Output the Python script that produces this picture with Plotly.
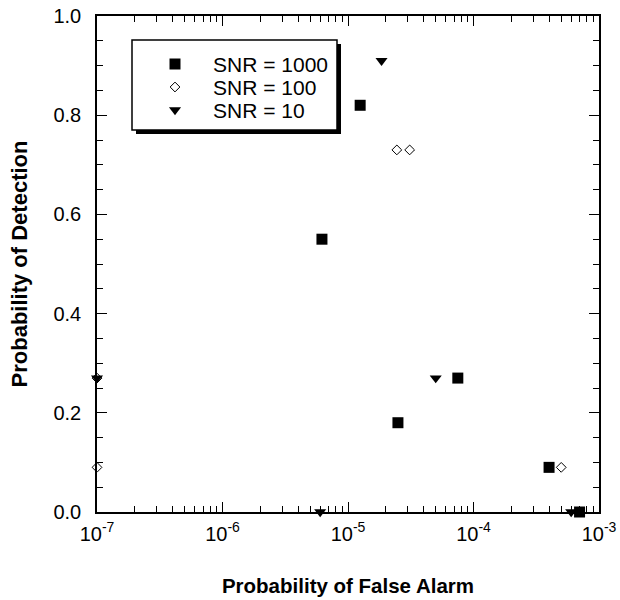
import plotly.graph_objects as go

# ---- data ----
snr1000_pfa = [6.2e-6, 1.25e-5, 2.5e-5, 7.5e-5, 4.0e-4, 7.0e-4]
snr1000_pd = [0.55, 0.82, 0.18, 0.27, 0.09, 0.0]

snr100_pfa = [1e-7, 1e-7, 2.45e-5, 3.1e-5, 5.0e-4]
snr100_pd = [0.27, 0.09, 0.73, 0.73, 0.09]

snr10_pfa = [1e-7, 6.0e-6, 1.85e-5, 5.0e-5, 6.0e-4]
snr10_pd = [0.27, 0.0, 0.91, 0.27, 0.0]

series_names = ["SNR = 1000", "SNR = 100", "SNR = 10"]

x_tickvals = [1e-7, 1e-6, 1e-5, 1e-4, 1e-3]
x_ticktext = ["10<sup>-7</sup>", "10<sup>-6</sup>", "10<sup>-5</sup>", "10<sup>-4</sup>", "10<sup>-3</sup>"]

FONT = "Liberation Sans, Arial, sans-serif"

markers = [
    dict(symbol="square", size=11, color="black"),
    dict(symbol="diamond-open", size=7.5, color="black", line=dict(width=1, color="black")),
    dict(symbol="triangle-down", size=10.5, color="black"),
]

fig = go.Figure()
for (xs, ys), name, mk in zip([(snr1000_pfa, snr1000_pd), (snr100_pfa, snr100_pd), (snr10_pfa, snr10_pd)],
                              series_names, markers):
    fig.add_trace(go.Scatter(x=xs, y=ys, mode="markers", name=name, marker=mk,
                             cliponaxis=False, showlegend=False))

L, R, T, B = 97, 21, 16, 88
W, H = 620, 600
pw, ph = W - L - R, H - T - B

def px(x):
    return (x - L) / pw

def py(y):
    return (H - B - y) / ph

# legend box with shadow
bx0, bx1, by0, by1 = 132, 337, 40, 130
sh = 4
fig.add_shape(type="rect", xref="paper", yref="paper",
              x0=px(bx0 + sh), x1=px(bx1 + sh), y0=py(by1 + sh), y1=py(by0 + sh),
              fillcolor="black", line=dict(width=0), layer="below")
fig.add_shape(type="rect", xref="paper", yref="paper",
              x0=px(bx0), x1=px(bx1), y0=py(by1), y1=py(by0),
              fillcolor="white", line=dict(width=1.5, color="black"), layer="below")

# legend entries (symbol on an overlay axis spanning the plot area, label as annotation)
key_x, text_x = 175, 211
row_y = [64, 87, 110]
for name, mk, ry in zip(series_names, markers, row_y):
    fig.add_trace(go.Scatter(x=[px(key_x)], y=[py(ry)], mode="markers", marker=mk,
                             xaxis="x2", yaxis="y2", showlegend=False, hoverinfo="skip", cliponaxis=False))
    fig.add_annotation(x=px(text_x), y=py(ry), xref="paper", yref="paper", text=name, showarrow=False,
                       xanchor="left", yanchor="middle", font=dict(family=FONT, size=21, color="black"))

axis_common = dict(showline=True, linecolor="black", linewidth=1.5, mirror="allticks",
                   ticks="inside", tickcolor="black", tickwidth=1, showgrid=False, zeroline=False,
                   automargin=False,
                   tickfont=dict(family=FONT, size=20, color="black"))

fig.update_xaxes(type="log", range=[-7, -3], tickvals=x_tickvals, ticktext=x_ticktext, ticklen=10,
                 ticklabelstandoff=3,
                 minor=dict(ticks="inside", ticklen=6, tickcolor="black", tickwidth=1, dtick="D1", showgrid=False),
                 title=dict(text="<b>Probability of False Alarm</b>", font=dict(family=FONT, size=20.5, color="black"),
                            standoff=35),
                 **axis_common)
fig.update_yaxes(range=[0, 1], dtick=0.2, tickformat=".1f", ticklen=10,
                 ticklabelstandoff=10,
                 minor=dict(ticks="inside", ticklen=6, tickcolor="black", tickwidth=1, dtick=0.05, showgrid=False),
                 title=dict(text="<b>Probability of Detection</b>", font=dict(family=FONT, size=22, color="black"),
                            standoff=20),
                 **axis_common)

fig.update_layout(
    template="none",
    width=W, height=H,
    margin=dict(l=L, r=R, t=T, b=B),
    paper_bgcolor="white", plot_bgcolor="white",
    showlegend=False,
    xaxis2=dict(overlaying="x", range=[0, 1], visible=False, domain=[0, 1], anchor="y2"),
    yaxis2=dict(overlaying="y", range=[0, 1], visible=False, domain=[0, 1], anchor="x2"),
)

fig.write_html("out.html", config={"displayModeBar": False},
               post_script="document.body.style.margin='0';")
